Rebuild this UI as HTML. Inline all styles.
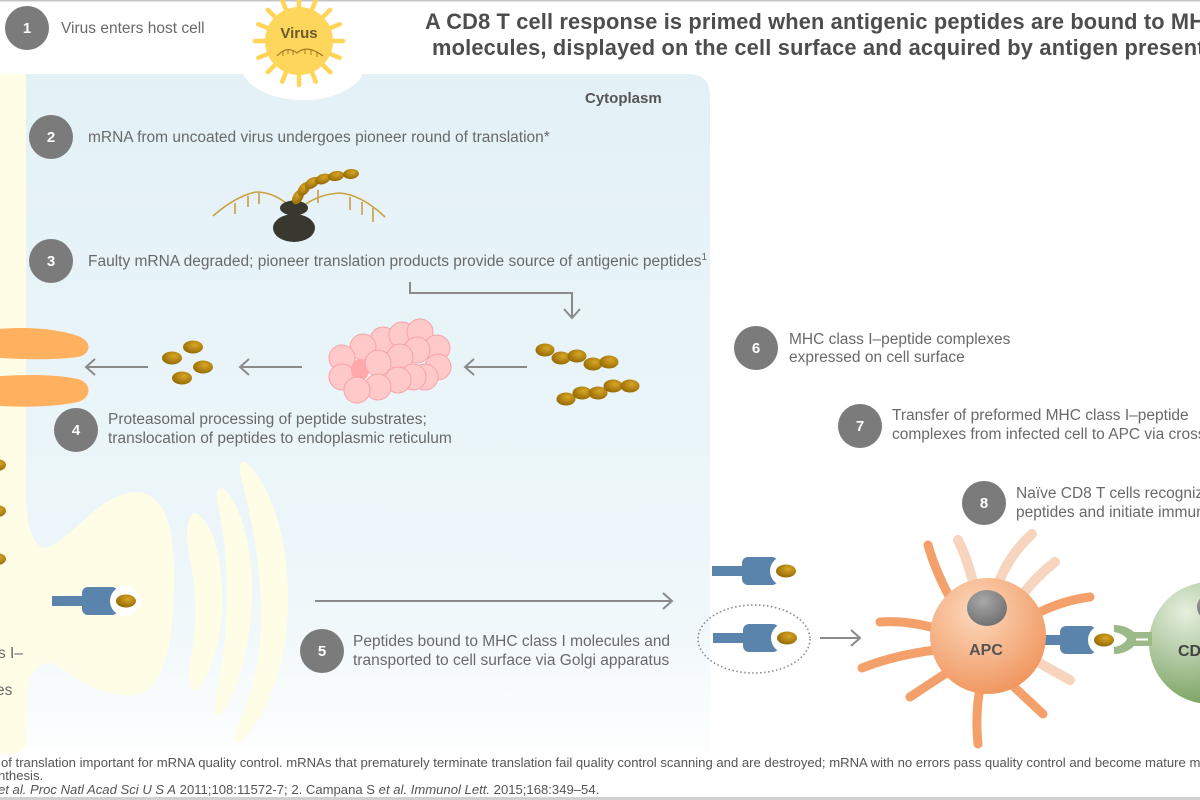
<!DOCTYPE html>
<html><head><meta charset="utf-8">
<style>
html,body{margin:0;padding:0;background:#fff;}
body{width:1200px;height:800px;overflow:hidden;position:relative;}
svg{display:block;}
text{font-family:"Liberation Sans",Arial,sans-serif;}
</style></head>
<body>
<svg width="1200" height="800" viewBox="0 0 1200 800" xmlns="http://www.w3.org/2000/svg">
<defs>
  <linearGradient id="panel" x1="0" y1="0" x2="0" y2="1">
    <stop offset="0" stop-color="#e3f1f7"/>
    <stop offset="0.75" stop-color="#eef7fa"/>
    <stop offset="1" stop-color="#ffffff"/>
  </linearGradient>
  <radialGradient id="pep" cx="0.6" cy="0.35" r="0.75">
    <stop offset="0" stop-color="#d8a626"/>
    <stop offset="1" stop-color="#8c6200"/>
  </radialGradient>
  <radialGradient id="apc" cx="0.4" cy="0.3" r="0.8">
    <stop offset="0" stop-color="#fcd9bd"/>
    <stop offset="1" stop-color="#ef8f55"/>
  </radialGradient>
  <radialGradient id="cd8" cx="0.3" cy="0.25" r="0.85">
    <stop offset="0" stop-color="#e6efdf"/>
    <stop offset="1" stop-color="#6f9b55"/>
  </radialGradient>
  <radialGradient id="nuc" cx="0.4" cy="0.3" r="0.8">
    <stop offset="0" stop-color="#a8a8a8"/>
    <stop offset="1" stop-color="#6a6a6a"/>
  </radialGradient>
  <g id="mhc">
    <rect x="0" y="-5" width="34" height="10" fill="#5b84ad"/>
    <rect x="30" y="-14" width="36" height="28" rx="6" fill="#5b84ad"/>
    <circle cx="73" cy="0" r="15" fill="#ffffff"/>
    <ellipse cx="74" cy="0" rx="10" ry="6.5" fill="url(#pep)"/>
  </g>
</defs>

<!-- top/bottom rules -->
<rect x="0" y="0" width="1200" height="1.5" fill="#c4c4c4"/>
<rect x="0" y="797" width="1200" height="3" fill="#d0d0d0"/>

<!-- cytoplasm panel -->
<path d="M26,74 H688 Q710,74 710,96 V772 H26 Z" fill="url(#panel)"/>
<ellipse cx="303" cy="65" rx="62" ry="35" fill="#ffffff"/>

<!-- ER -->
<path d="M0,74 L26,74 L26,500 C27,528 34,548 46,548 C72,540 98,494 135,492 C162,492 175,522 174,580 C174,640 165,690 135,695 C100,697 80,680 56,665 C42,658 30,670 27,690 L26,745 Q20,756 0,754 Z" fill="#fffde6"/>

<!-- Golgi -->
<path d="M195,513 C215,520 224,570 222,610 C220,650 205,685 196,690 C188,692 188,670 192,650 C198,620 196,590 190,560 C186,540 185,515 195,513 Z" fill="#fffde6"/>
<path d="M222,488 C242,500 254,560 252,600 C250,650 235,700 220,715 C214,718 214,705 217,690 C228,640 232,570 218,505 C216,495 216,488 222,488 Z" fill="#fffde6"/>
<path d="M246,462 C275,490 290,550 288,610 C286,670 262,725 240,742 C234,745 233,735 238,725 C255,690 262,650 261,605 C260,560 250,510 241,478 C238,468 240,460 246,462 Z" fill="#fffde6"/>

<!-- ER left peptides -->
<ellipse cx="-3" cy="465" rx="9" ry="6" fill="url(#pep)"/>
<ellipse cx="-3" cy="511" rx="9" ry="6" fill="url(#pep)"/>
<ellipse cx="-3" cy="559" rx="9" ry="6" fill="url(#pep)"/>

<!-- orange TAP -->
<path d="M-10,330 C20,326 55,328 78,336 C92,341 92,354 78,357 C55,360 20,360 -10,357 Z" fill="#ffb160"/>
<path d="M-10,377 C20,374 55,374 78,379 C92,383 92,398 78,402 C55,407 20,408 -10,405 Z" fill="#ffb160"/>

<!-- ER MHC -->
<use href="#mhc" transform="translate(52,601)"/>

<!-- Virus -->
<g transform="translate(299,41)">
  <path d="M30,0 L44,0 M27.7,11.5 L40.7,16.8 M21.2,21.2 L31.1,31.1 M11.5,27.7 L16.8,40.7 M0,30 L0,44 M-11.5,27.7 L-16.8,40.7 M-21.2,21.2 L-31.1,31.1 M-27.7,11.5 L-40.7,16.8 M-30,0 L-44,0 M-27.7,-11.5 L-40.7,-16.8 M-21.2,-21.2 L-31.1,-31.1 M-11.5,-27.7 L-16.8,-40.7 M0,-30 L0,-44 M11.5,-27.7 L16.8,-40.7 M21.2,-21.2 L31.1,-31.1 M27.7,-11.5 L40.7,-16.8" stroke="#ffd457" stroke-width="4.5" stroke-linecap="round"/>
  <circle cx="0" cy="0" r="34" fill="#fed65c"/>
  <text x="0" y="-3" text-anchor="middle" font-size="15" font-weight="bold" fill="#6b5a2c">Virus</text>
  <path d="M-22,15 Q-12,4 -2,12 Q8,3 24,15" fill="none" stroke="#a07d20" stroke-width="1.2"/>
  <path d="M-16,10 V15 M-11,8 V13 M-6,9 V14 M6,8 V13 M12,9 V14 M18,11 V16" stroke="#a07d20" stroke-width="1"/>
</g>

<!-- step circles -->
<g fill="#7b7b7b">
  <circle cx="27" cy="28" r="22"/>
  <circle cx="51" cy="137" r="22"/>
  <circle cx="51" cy="261" r="22"/>
  <circle cx="76" cy="430" r="22"/>
  <circle cx="322" cy="651" r="22"/>
  <circle cx="756" cy="348" r="22"/>
  <circle cx="860" cy="426" r="22"/>
  <circle cx="984" cy="503" r="22"/>
</g>
<g fill="#ffffff" font-size="15" font-weight="bold" text-anchor="middle">
  <text x="27" y="33">1</text>
  <text x="51" y="142">2</text>
  <text x="51" y="266">3</text>
  <text x="76" y="435">4</text>
  <text x="322" y="656">5</text>
  <text x="756" y="353">6</text>
  <text x="860" y="431">7</text>
  <text x="984" y="508">8</text>
</g>

<!-- title -->
<g font-size="21.8" font-weight="bold" fill="#4d4d4d">
  <text x="425" y="29" letter-spacing="0.15">A CD8 T cell response is primed when antigenic peptides are bound to MHC class I</text>
  <text x="432" y="55" letter-spacing="0.2">molecules, displayed on the cell surface and acquired by antigen presenting cells</text>
</g>
<text x="585" y="103" font-size="15" font-weight="bold" fill="#555">Cytoplasm</text>

<!-- step texts -->
<g font-size="15.5" fill="#696969">
  <text x="61" y="33">Virus enters host cell</text>
  <text x="88" y="142">mRNA from uncoated virus undergoes pioneer round of translation*</text>
  <text x="88" y="266">Faulty mRNA degraded; pioneer translation products provide source of antigenic peptides<tspan font-size="10" dy="-6">1</tspan></text>
  <text x="108" y="424">Proteasomal processing of peptide substrates;</text>
  <text x="108" y="443">translocation of peptides to endoplasmic reticulum</text>
  <text x="353" y="646">Peptides bound to MHC class I molecules and</text>
  <text x="353" y="665">transported to cell surface via Golgi apparatus</text>
  <text x="789" y="344">MHC class I–peptide complexes</text>
  <text x="789" y="362">expressed on cell surface</text>
  <text x="892" y="420">Transfer of preformed MHC class I–peptide</text>
  <text x="892" y="439">complexes from infected cell to APC via cross-dressing</text>
  <text x="1016" y="498">Naïve CD8 T cells recognize MHC class I–</text>
  <text x="1016" y="517">peptides and initiate immune response</text>
  <text x="-2" y="658">s I–</text>
  <text x="-4" y="695">es</text>
</g>

<!-- mRNA + ribosome -->
<g fill="none" stroke="#c9a040" stroke-width="1.6">
  <path d="M213,216 Q236,196 256,192 Q275,192 292,208"/>
  <path d="M300,208 Q318,194 340,193 Q362,195 385,217"/>
  <path d="M235,203 V214 M248,196 V207 M259,193 V204 M318,190 V203 M350,197 V210 M362,202 V215 M373,208 V222"/>
</g>
<ellipse cx="294" cy="228" rx="21" ry="14" fill="#38382f"/>
<ellipse cx="294" cy="208" rx="14" ry="7.5" fill="#38382f"/>
<g fill="url(#pep)">
  <ellipse cx="298" cy="197" rx="8" ry="5" transform="rotate(-60 298 197)"/>
  <ellipse cx="304" cy="189" rx="8" ry="5" transform="rotate(-50 304 189)"/>
  <ellipse cx="312" cy="183" rx="8" ry="5" transform="rotate(-35 312 183)"/>
  <ellipse cx="323" cy="179" rx="8" ry="5" transform="rotate(-20 323 179)"/>
  <ellipse cx="336" cy="176" rx="8" ry="5" transform="rotate(-10 336 176)"/>
  <ellipse cx="351" cy="174" rx="8" ry="5" transform="rotate(-5 351 174)"/>
</g>

<!-- arrows -->
<g fill="none" stroke="#8a8a8a" stroke-width="2">
  <path d="M148,367 H86 M95,359 L86,367 L95,375"/>
  <path d="M302,367 H240 M249,359 L240,367 L249,375"/>
  <path d="M527,367 H465 M474,359 L465,367 L474,375"/>
  <path d="M410,282 V293 H572 V318 M564,309 L572,318 L580,309"/>
  <path d="M315,601 H672 M663,593 L672,601 L663,609"/>
  <path d="M820,638 H860 M851,630 L860,638 L851,646"/>
</g>

<!-- peptides (4) -->
<g fill="url(#pep)">
  <ellipse cx="193" cy="347" rx="10" ry="6.5"/>
  <ellipse cx="172" cy="358" rx="10" ry="6.5"/>
  <ellipse cx="203" cy="367" rx="10" ry="6.5"/>
  <ellipse cx="182" cy="378" rx="10" ry="6.5"/>
</g>

<!-- peptide chains -->
<g fill="url(#pep)">
  <ellipse cx="545" cy="350" rx="9.5" ry="6.5"/>
  <ellipse cx="561" cy="358" rx="9.5" ry="6.5"/>
  <ellipse cx="577" cy="356" rx="9.5" ry="6.5"/>
  <ellipse cx="593" cy="364" rx="9.5" ry="6.5"/>
  <ellipse cx="609" cy="362" rx="9.5" ry="6.5"/>
  <ellipse cx="566" cy="399" rx="9.5" ry="6.5"/>
  <ellipse cx="582" cy="393" rx="9.5" ry="6.5"/>
  <ellipse cx="598" cy="393" rx="9.5" ry="6.5"/>
  <ellipse cx="613" cy="386" rx="9.5" ry="6.5"/>
  <ellipse cx="630" cy="386" rx="9.5" ry="6.5"/>
</g>

<!-- proteasome -->
<g fill="#ffc9c9" stroke="#f6a2a8" stroke-width="1">
  <circle cx="383" cy="340" r="13"/>
  <circle cx="402" cy="335" r="13"/>
  <circle cx="420" cy="332" r="13"/>
  <circle cx="437" cy="348" r="13"/>
  <circle cx="438" cy="367" r="13"/>
  <circle cx="363" cy="347" r="13"/>
  <circle cx="342" cy="358" r="13"/>
  <circle cx="342" cy="377" r="13"/>
  <circle cx="425" cy="377" r="13"/>
  <ellipse cx="360" cy="370" rx="9" ry="11" fill="#ffaaaa" stroke="none"/>
  <circle cx="417" cy="350" r="13"/>
  <circle cx="400" cy="357" r="13"/>
  <circle cx="378" cy="363" r="13"/>
  <circle cx="413" cy="377" r="13"/>
  <circle cx="398" cy="380" r="13"/>
  <circle cx="378" cy="387" r="13"/>
  <circle cx="357" cy="390" r="13"/>
</g>

<!-- surface MHCs -->
<use href="#mhc" transform="translate(712,571)"/>
<use href="#mhc" transform="translate(713,638)"/>
<ellipse cx="754" cy="639" rx="56" ry="34" fill="none" stroke="#8a8a8a" stroke-width="1.6" stroke-dasharray="1.5 2.5"/>

<!-- APC -->
<g fill="none" stroke-linecap="round">
  <g stroke="#f7d4be" stroke-width="10">
    <path d="M975,590 Q968,560 958,540"/>
    <path d="M998,585 Q1008,556 1032,534"/>
    <path d="M1022,595 Q1038,575 1055,562"/>
    <path d="M1038,662 Q1055,672 1070,680"/>
  </g>
  <g stroke="#f3a06a" stroke-width="9">
    <path d="M950,598 Q935,570 928,545"/>
    <path d="M935,628 Q905,620 880,622"/>
    <path d="M935,650 Q895,655 862,668"/>
    <path d="M948,672 Q928,685 910,697"/>
    <path d="M980,688 Q975,715 978,744"/>
    <path d="M1012,685 Q1028,700 1043,714"/>
    <path d="M1040,612 Q1065,600 1090,597"/>
  </g>
</g>
<use href="#mhc" transform="translate(1030,640)"/>
<circle cx="988" cy="636" r="58" fill="url(#apc)"/>
<ellipse cx="987" cy="608" rx="20" ry="18" fill="url(#nuc)"/>
<text x="986" y="655" text-anchor="middle" font-size="16" font-weight="bold" fill="#555">APC</text>

<!-- CD8 T cell -->
<circle cx="1210" cy="643" r="61" fill="url(#cd8)"/>
<ellipse cx="1217" cy="607" rx="20" ry="16" fill="url(#nuc)"/>
<text x="1178" y="656" font-size="16" font-weight="bold" fill="#444">CD8</text>
<path d="M1152,632 L1134,632 Q1126,625 1114,625 L1114,632 Q1124,634 1127,639 Q1124,645 1114,647 L1114,654 Q1126,654 1134,646 L1152,646 Z" fill="#9cba88"/>
<rect x="1136" y="638.5" width="12" height="2" fill="#ffffff"/>

<!-- footnotes -->
<g font-size="13.1" fill="#555">
  <text x="1" y="767">of translation important for mRNA quality control. mRNAs that prematurely terminate translation fail quality control scanning and are destroyed; mRNA with no errors pass quality control and become mature mRNAs</text>
  <text x="-2" y="780">nthesis.</text>
  <text x="-2" y="794"><tspan font-style="italic">et al. Proc Natl Acad Sci U S A</tspan> 2011;108:11572-7; 2. Campana S <tspan font-style="italic">et al. Immunol Lett.</tspan> 2015;168:349–54.</text>
</g>
</svg>
</body></html>
